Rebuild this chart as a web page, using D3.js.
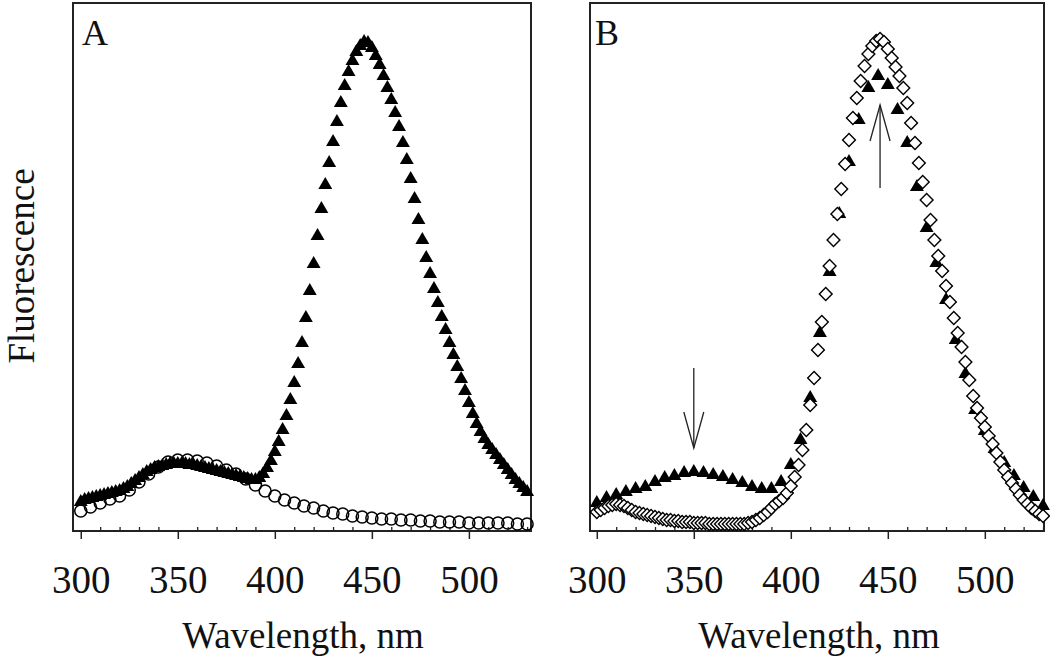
<!DOCTYPE html>
<html><head><meta charset="utf-8">
<script src="https://cdn.jsdelivr.net/npm/d3@7"></script>
<style>
body{margin:0;background:#fff}
svg{display:block}
text{font-family:"Liberation Serif","Times New Roman",serif;fill:#111}
</style>
</head><body>
<svg id="c" width="1050" height="663"></svg>
<script>
// ---------------- DATA ----------------
// wavelengths (nm) for densely sampled series (2 nm)
const wl2 = [300,302,304,306,308,310,312,314,316,318,
             320,322,324,326,328,330,332,334,336,338,
             340,342,344,346,348,350,352,354,356,358,
             360,362,364,366,368,370,372,374,376,378,
             380,382,384,386,388,390,392,394,396,398,
             400,402,404,406,408,410,412,414,416,418,
             420,422,424,426,428,430,432,434,436,438,
             440,442,444,446,448,450,452,454,456,458,
             460,462,464,466,468,470,472,474,476,478,
             480,482,484,486,488,490,492,494,496,498,
             500,502,504,506,508,510,512,514,516,518,
             520,522,524,526,528,530];
// wavelengths (nm) for sparsely sampled series (5 nm)
const wl5 = [300,305,310,315,320,325,330,335,340,345,
             350,355,360,365,370,375,380,385,390,395,
             400,405,410,415,420,425,430,435,440,445,
             450,455,460,465,470,475,480,485,490,495,
             500,505,510,515,520,525,530];

// Panel A: filled triangles (a.u.)
const triA = [29,31,32,33,34,35,36,37,38,39,
              40,42,44,47,50,53,56,59,61,63,
              64,65,66,67,67,67,67,67,66,66,
              65,64,63,62,61,60,59,58,57,56,
              55,54,53,52,51,51,53,57,63,70,
              79,89,101,115,131,148,167,188,213,240,
              267,295,322,346,368,389,409,428,445,459,
              470,479,485,489,488,483,475,466,455,443,
              431,418,404,388,371,352,332,311,291,273,
              257,242,228,214,201,188,176,164,152,140,
              128,117,107,99,92,86,81,76,71,66,
              61,56,51,47,43,39];
// Panel A: open circles (a.u.)
const circA = [20,24,28,32,35,41,49,57,64,69,
               71,71,70,68,65,61,57,52,46,40,
               35,31,28,25,23,20,18,17,15,14,
               13,12,12,11,11,10,10,9,9,9,
               8,8,8,8,8,7,7];
// Panel B: filled triangles (a.u.)
const triB = [28,33,36,39,42,44,49,53,55,58,
              59,58,56,54,51,48,44,42,42,49,
              66,91,133,198,259,317,369,411,443,455,
              446,421,388,344,303,268,231,191,157,121,
              100,82,68,55,43,34,25];
// Panel B: open diamonds (a.u.)
const diaB = [19,21,23,25,26,27,26,25,23,21,
              19,18,17,16,15,14,13,12,11,11,
              10,10,9,9,9,8,8,8,8,7,
              7,7,7,7,7,7,7,7,7,8,
              9,11,13,16,19,23,27,30,33,38,
              45,54,66,81,101,126,153,181,209,237,
              265,291,317,342,367,391,413,433,450,465,
              477,485,490,492,489,482,473,464,455,443,
              428,408,388,368,349,331,311,291,275,260,
              245,229,213,198,184,169,151,135,123,113,
              104,95,87,78,69,61,54,48,42,36,
              31,27,23,20,17,15];

const majorTicks = [300,350,400,450,500];
const minorTicks = [310,320,330,340,360,370,380,390,410,420,430,440,460,470,480,490,510,520,530];
const panelLabels = ["A","B"];
const xTitle = "Wavelength, nm";
const yTitle = "Fluorescence";
// arrows in panel B: [wavelength, from value, to value]
const arrowDown = [350, 163, 83];
const arrowUp = [446, 343, 426];

// ---------------- LAYOUT ----------------
const svg = d3.select("#c");
const yTop = 3, yBot = 531;
const y = d3.scaleLinear().domain([0,528]).range([yBot,yTop]);
const panels = [
  {label:panelLabels[0], x0:73, x1:531, dom:[296,532], titleX:303},
  {label:panelLabels[1], x0:590, x1:1044, dom:[296.5,530.5], titleX:819}
];

panels.forEach((p,i)=>{
  p.x = d3.scaleLinear().domain(p.dom).range([p.x0,p.x1]);
  const g = svg.append("g");
  // frame
  g.append("rect").attr("x",p.x0).attr("y",yTop).attr("width",p.x1-p.x0).attr("height",yBot-yTop)
    .attr("fill","none").attr("stroke","#222").attr("stroke-width",2);
  // major ticks (outside) with labels
  const ax = g.append("g").attr("transform",`translate(0,${yBot})`)
    .call(d3.axisBottom(p.x).tickValues(majorTicks).tickSize(8).tickFormat(d3.format("d")));
  ax.select(".domain").remove();
  ax.selectAll("line").attr("stroke","#222").attr("stroke-width",1.5);
  ax.selectAll("text").attr("y",62).attr("dy",0).style("font-size","39px")
    .style("font-family",'"Liberation Serif","Times New Roman",serif').attr("fill","#111");
  // minor ticks (inside)
  const mx = g.append("g").attr("transform",`translate(0,${yBot})`)
    .call(d3.axisBottom(p.x).tickValues(minorTicks).tickSizeInner(-4).tickSizeOuter(0).tickFormat(""));
  mx.select(".domain").remove();
  mx.selectAll("line").attr("stroke","#222").attr("stroke-width",1.3);
  // panel letter
  g.append("text").attr("x",p.x0+(i===0?9:5)).attr("y",45).style("font-size","36px").text(p.label);
  // x title
  g.append("text").attr("x",p.titleX).attr("y",648).attr("text-anchor","middle")
    .style("font-size","37px").text(xTitle);
  p.g = g;
});

// y title
svg.append("text").attr("transform","translate(34,266) rotate(-90)").attr("text-anchor","middle")
  .style("font-size","37px").text(yTitle);

const triPath = d3.symbol().type(d3.symbolTriangle).size(84)();
const sqPath = d3.symbol().type(d3.symbolSquare).size(82)();

// Panel A
const pA = panels[0];
pA.g.append("g").selectAll("circle").data(wl5.map((w,i)=>[w,circA[i]])).join("circle")
  .attr("cx",d=>pA.x(d[0])).attr("cy",d=>y(d[1])).attr("r",6)
  .attr("fill","none").attr("stroke","#000").attr("stroke-width",1.5);
pA.g.append("g").selectAll("path").data(wl2.map((w,i)=>[w,triA[i]])).join("path")
  .attr("d",triPath).attr("transform",d=>`translate(${pA.x(d[0])},${y(d[1])})`).attr("fill","#000");

// Panel B
const pB = panels[1];
pB.g.append("g").selectAll("path").data(wl5.map((w,i)=>[w,triB[i]])).join("path")
  .attr("d",triPath).attr("transform",d=>`translate(${pB.x(d[0])},${y(d[1])})`).attr("fill","#000");
pB.g.append("g").selectAll("path").data(wl2.map((w,i)=>[w,diaB[i]])).join("path")
  .attr("d",sqPath).attr("transform",d=>`translate(${pB.x(d[0])},${y(d[1])}) rotate(45)`)
  .attr("fill","#fff").attr("stroke","#000").attr("stroke-width",1.4);

// arrows
function arrow(a){
  const ax = pB.x(a[0]), ya = y(a[1]), yb = y(a[2]);
  const dir = yb > ya ? -1 : 1; // head points towards yb
  const g = pB.g.append("g").attr("stroke","#222").attr("stroke-width",1.3).attr("fill","none");
  g.append("line").attr("x1",ax).attr("x2",ax).attr("y1",ya).attr("y2",yb);
  g.append("path").attr("d",`M${ax-10},${yb+dir*36}L${ax},${yb}L${ax+10},${yb+dir*36}`);
}
arrow(arrowDown);
arrow(arrowUp);
</script>
</body></html>
